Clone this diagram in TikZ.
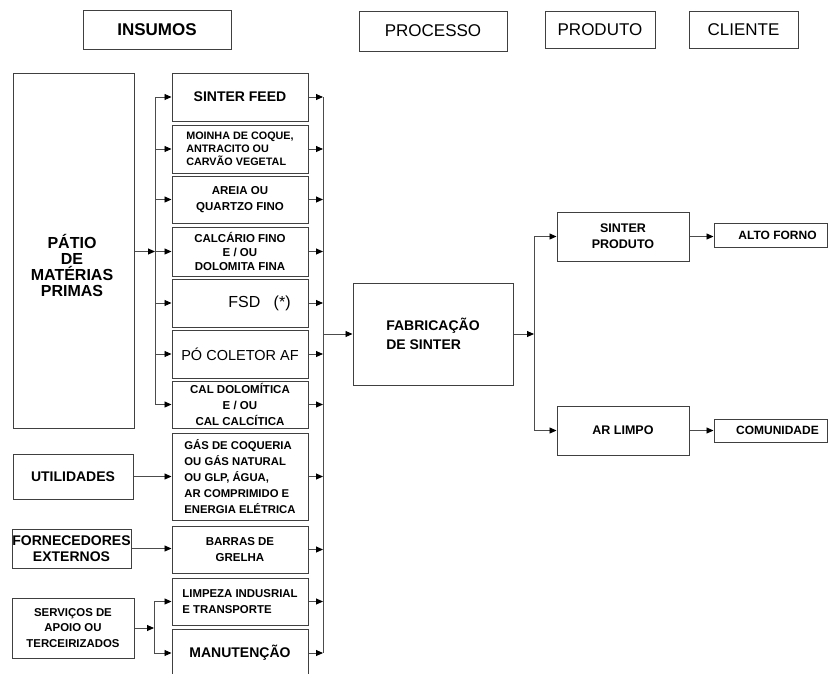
\documentclass[tikz,border=0pt]{standalone}
\usepackage{fontspec}
\setmainfont{Liberation Sans}
\usetikzlibrary{arrows.meta}
\newcommand{\fsz}[2]{\fontsize{#1}{#2}\selectfont}
\begin{document}
\begin{tikzpicture}[x=1pt,y=-1pt,
  box/.style={draw=black!75, line width=1pt, inner sep=0pt, align=center, text=black},
  midbox/.style={box, minimum width=136pt},
  arr/.style={draw=black!70, line width=0.9pt, -{Triangle[length=7pt,width=6pt,color=black]}},
  ln/.style={draw=black!70, line width=0.9pt},
  txt/.style={inner sep=0pt, align=center, text=black}
]
\useasboundingbox (0,0) rectangle (828,673);

% headers
\node[box, minimum width=148pt, minimum height=39pt, font=\fsz{17}{19}\bfseries] (hins) at (157,29.5) {INSUMOS};
\node[box, minimum width=148pt, minimum height=40pt, font=\fsz{17}{19}] (hproc) at (433,31) {PROCESSO};
\node[box, minimum width=110pt, minimum height=37pt, font=\fsz{17}{19}] (hprod) at (600,29.5) {PRODUTO};
\node[box, minimum width=109pt, minimum height=37pt, font=\fsz{17}{19}] (hcli) at (743.5,29.5) {CLIENTE};

% left column
\node[box, minimum width=121pt, minimum height=355pt] (patio) at (73.5,250.5) {};
\node[txt, font=\fsz{16}{16}\bfseries] (patiot) at (72,265) {PÁTIO\\DE\\MATÉRIAS\\PRIMAS};
\node[box, minimum width=120pt, minimum height=45pt, font=\fsz{14}{16}\bfseries] (util) at (73,476.5) {UTILIDADES};
\node[box, minimum width=119pt, minimum height=39pt, font=\fsz{14}{16}\bfseries] (forn) at (71.5,548.5) {FORNECEDORES\\EXTERNOS};
\node[box, minimum width=122pt, minimum height=60pt, font=\fsz{11.4}{15.5}\bfseries] (serv) at (73,628) {SERVIÇOS DE\\APOIO OU\\TERCEIRIZADOS};

% middle column
\node[midbox, minimum height=48pt, font=\fsz{14}{16}\bfseries] (sf) at (240,97) {SINTER FEED};
\node[midbox, minimum height=48pt, font=\fsz{10.8}{12.8}\bfseries, align=left] (moinha) at (240,149) {MOINHA DE COQUE,\\ANTRACITO OU\\CARVÃO VEGETAL};
\node[midbox, minimum height=47pt, font=\fsz{11.5}{15.5}\bfseries] (areia) at (240,199.5) {AREIA OU\\QUARTZO FINO};
\node[midbox, minimum height=49pt, font=\fsz{11.5}{13.8}\bfseries] (calc) at (240,251.5) {CALCÁRIO FINO\\E / OU\\DOLOMITA FINA};
\node[midbox, minimum height=48pt, font=\fsz{16}{18}] (fsd) at (240,303) {\hspace*{39pt}FSD~~~(*)};
\node[midbox, minimum height=48pt, font=\fsz{14.5}{16}] (po) at (240,354) {PÓ COLETOR AF};
\node[midbox, minimum height=47pt, font=\fsz{11.5}{16}\bfseries] (cald) at (240,404.5) {CAL DOLOMÍTICA\\E / OU\\CAL CALCÍTICA};
\node[midbox, minimum height=87pt, font=\fsz{11.3}{15.8}\bfseries, align=left] (gas) at (240,476.5) {GÁS DE COQUERIA\\OU GÁS NATURAL\\OU GLP, ÁGUA,\\AR COMPRIMIDO E\\ENERGIA ELÉTRICA};
\node[midbox, minimum height=47pt, font=\fsz{11.5}{15.5}\bfseries] (barras) at (240,549.5) {BARRAS DE\\GRELHA};
\node[midbox, minimum height=47pt, font=\fsz{11.4}{16}\bfseries, align=left] (limp) at (240,601.5) {LIMPEZA INDUSRIAL\\E TRANSPORTE};
\node[midbox, minimum height=48pt, font=\fsz{14}{16}\bfseries] (manut) at (240,653) {MANUTENÇÃO};

% process / product / client
\node[box, minimum width=160pt, minimum height=102pt, font=\fsz{14}{19.5}\bfseries, align=left] (fab) at (433,334) {FABRICAÇÃO\\DE SINTER};
\node[box, minimum width=132pt, minimum height=49pt, font=\fsz{12.5}{16}\bfseries] (sp) at (623,236.5) {SINTER\\PRODUTO};
\node[box, minimum width=132pt, minimum height=49pt, font=\fsz{12.5}{16}\bfseries] (ar) at (623,430.5) {AR LIMPO};
\node[box, minimum width=113pt, minimum height=24pt, font=\fsz{12}{14}\bfseries] (alto) at (770.5,235) {\hspace*{14pt}ALTO FORNO};
\node[box, minimum width=113pt, minimum height=23pt, font=\fsz{12}{14}\bfseries] (comu) at (770.5,430.5) {\hspace*{14pt}COMUNIDADE};

% bus coordinates
\coordinate (lb) at (155,0);
\coordinate (sb) at (154,0);
\coordinate (rb) at (323,0);
\coordinate (pb) at (534,0);

% patio to left bus
\draw[arr] (patio.east |- calc.west) -- (lb |- calc.west);
\draw[ln] (lb |- sf.west) -- (lb |- cald.west);
\foreach \n in {sf,moinha,areia,calc,fsd,po,cald}
  \draw[arr] (lb |- \n.west) -- (\n.west);

% right bus
\foreach \n in {sf,moinha,areia,calc,fsd,po,cald,gas,barras,limp,manut}
  \draw[arr] (\n.east) -- (rb |- \n.east);
\draw[ln] (rb |- sf.east) -- (rb |- manut.east);
\draw[arr] (rb |- fab.west) -- (fab.west);

% other inputs
\draw[arr] (util.east) -- (util.east -| gas.west);
\draw[arr] (forn.east) -- (forn.east -| barras.west);
\draw[arr] (serv.east) -- (sb |- serv.east);
\draw[ln] (sb |- limp.west) -- (sb |- manut.west);
\draw[arr] (sb |- limp.west) -- (limp.west);
\draw[arr] (sb |- manut.west) -- (manut.west);

% outputs
\draw[arr] (fab.east) -- (pb |- fab.east);
\draw[ln] (pb |- sp.west) -- (pb |- ar.west);
\draw[arr] (pb |- sp.west) -- (sp.west);
\draw[arr] (pb |- ar.west) -- (ar.west);
\draw[arr] (sp.east) -- (sp.east -| alto.west);
\draw[arr] (ar.east) -- (ar.east -| comu.west);
\end{tikzpicture}
\end{document}
